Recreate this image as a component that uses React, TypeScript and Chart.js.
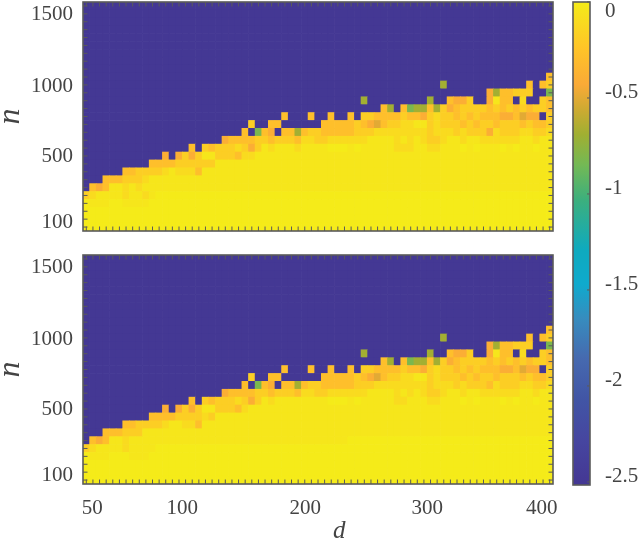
import React, { useEffect, useRef } from 'react';
import { Chart, registerables } from 'chart.js';

Chart.register(...registerables);

const dots = (count: number) => '.'.repeat(count);

// axis values of the grid, one per column / row
const dValues = [
  50, 55, 60, 65, 70, 75, 80, 85, 90, 95, 100, 105, 110, 115, 120, 125, 130, 135, 140, 145, 150, 155, 160, 165,
  170, 175, 180, 185, 190, 195, 200, 205, 210, 215, 220, 225, 230, 235, 240, 245, 250, 255, 260, 265, 270, 275,
  280, 285, 290, 295, 300, 305, 310, 315, 320, 325, 330, 335, 340, 345, 350, 355, 360, 365, 370, 375, 380, 385,
  390, 395, 400,
];
const nValues = [
  100, 150, 200, 250, 300, 350, 400, 450, 500, 550, 600, 650, 700, 750, 800, 850, 900, 950, 1000, 1050, 1100,
  1150, 1200, 1250, 1300, 1350, 1400, 1450, 1500,
];

// printed labels sit a little off their true ticks in the picture
const xTickLabels = ['50', '100', '200', '300', '400'];
const xTickSpots = [54.5, 122.5, 215.4, 307.6, 394];
const yTickLabels = ['100', '500', '1000', '1500'];
const yTickSpots = [132, 544, 987, 1449];
const barTickLabels = ['0', '-0.5', '-1', '-1.5', '-2', '-2.5'];
const barTickSpots = [-0.047, -0.469, -0.974, -1.469, -1.969, -2.474];
const barTrueTicks = [0, -0.5, -1, -1.5, -2, -2.5];

// cell codes -> value on the colour bar
const cellLevels: Record<string, number> = {
  '.': -2.5, a: 0, b: -0.03, c: -0.1, d: -0.18, e: -0.28, f: -0.4, g: -0.5, h: -0.68, i: -0.82,
};

// rows from n = 100 upward, one character per d column
const topRows = [
  'a'.repeat(71),
  'a'.repeat(71),
  'a'.repeat(71),
  'abbbaabbbb' + 'a'.repeat(61),
  'dcbbbbcbbcb' + 'a'.repeat(60),
  '.efebbcbcb' + 'b'.repeat(61),
  '...eeedddc' + 'b'.repeat(61),
  dots(6) + 'eedd' + 'ddcbccce' + 'b'.repeat(53),
  dots(10) + 'eeee' + 'dddddd' + 'b'.repeat(51),
  dots(12) + 'f.' + 'fdfd' + 'bbddde' + 'cc' + 'b'.repeat(45),
  dots(16) + 'e.' + 'dedddcdfdb' + 'cbbbcbbbba' + 'aababbbbbc' + 'ccbbccbbba' + 'babbbababb' + 'abb',
  dots(21) + 'feeeeddedd' + 'deccddcccc' + 'ccbbbbcbcb' + 'cddcbbcbbc' + 'cccccbbcbb',
  dots(24) + 'e.ief.eehe' + 'ddeeeeeddd' + 'ccccccccdc' + 'ccdcdddfcd' + 'ddccddc',
  dots(25) + 'd..ee' + dots(6) + 'eeeeedefge' + 'ddccbbdcdd' + 'dededdedd' + 'dedeed',
  dots(30) + 'e...e..e..e.' + 'ddeeeedeef' + 'dcddededee' + 'effegff.d',
  dots(45) + 'eh.eihhehd' + 'feddddeded' + 'ededde',
  dots(42) + 'h' + dots(9) + 'h..effd..fbee.c..de',
  dots(61) + 'fheeddd..i',
  dots(54) + 'h' + dots(12) + 'e.ed',
  dots(70) + 'e',
  dots(71), dots(71), dots(71), dots(71), dots(71), dots(71), dots(71), dots(71), dots(71),
];

const bottomRows = [
  'a'.repeat(71),
  'a'.repeat(71),
  'a'.repeat(71),
  'abbbaaabbb' + 'a'.repeat(61),
  'dcbbbbcbbbb' + 'a'.repeat(60),
  '.efebbcbbb' + 'b'.repeat(30) + 'a'.repeat(31),
  '...eeedddb' + 'b'.repeat(61),
  dots(6) + 'eedd' + 'ddcbbcce' + 'b'.repeat(53),
  dots(10) + 'eeee' + 'ddddcd' + 'b'.repeat(51),
  dots(12) + 'f.' + 'fdfd' + 'bbddde' + 'cb' + 'b'.repeat(45),
  dots(16) + 'e.' + 'dedddcdfdb' + 'cbbbbbbbba' + 'aababbbbbc' + 'cbbbccbbba' + 'babbbababb' + 'abb',
  dots(21) + 'feeeeddedd' + 'deccddcccc' + 'ccbbbbcbcb' + 'cddcbbcbbc' + 'cccccbbcbb',
  dots(24) + 'e.ief.eehe' + 'ddeeeeeddd' + 'ccccccccdc' + 'ccdcdddecd' + 'ddccddc',
  dots(25) + 'd..ee' + dots(6) + 'eeeeedefge' + 'ddccbbdcdd' + 'dededdedd' + 'dedeed',
  dots(30) + 'e...e..e..e.' + 'ddeeeedeef' + 'dcddededee' + 'effegff.d',
  dots(45) + 'eh.eihhehd' + 'feddddeded' + 'ededde',
  dots(42) + 'h' + dots(9) + 'h..effd..fbee.c..de',
  dots(61) + 'fheeddd..i',
  dots(54) + 'h' + dots(12) + 'e.ed',
  dots(70) + 'e',
  dots(71), dots(71), dots(71), dots(71), dots(71), dots(71), dots(71), dots(71), dots(71),
];

// colour bar stops: value, r, g, b
const colorStops = [
  [0, 245, 235, 25], [-0.25, 255, 195, 40], [-0.43, 250, 170, 55], [-0.56, 205, 170, 50], [-0.69, 160, 175, 50],
  [-0.85, 115, 185, 85], [-1.03, 60, 175, 125], [-1.29, 15, 170, 190], [-1.47, 15, 170, 205], [-1.65, 55, 140, 190],
  [-1.86, 70, 105, 175], [-2.07, 65, 85, 165], [-2.28, 70, 70, 160], [-2.5, 68, 56, 148],
];

const inkColor = '#444444';
const frameColor = '#5a5a5a';
const serif = 'Liberation Serif';

function colorFor(value: number) {
  for (let i = 1; i < colorStops.length; i++) {
    const [v1, r1, g1, b1] = colorStops[i - 1];
    const [v2, r2, g2, b2] = colorStops[i];
    if (value >= v2) {
      const t = (v1 - value) / (v1 - v2);
      return `rgb(${r1 + (r2 - r1) * t},${g1 + (g2 - g1) * t},${b1 + (b2 - b1) * t})`;
    }
  }
  return '#443894';
}

// tick labels must not push the plot area in, the layout is fixed here
function clearPadding(scale: any) {
  scale.paddingLeft = 0;
  scale.paddingRight = 0;
  scale.paddingTop = 0;
  scale.paddingBottom = 0;
  scale._margins = { left: 0, right: 0, top: 0, bottom: 0 };
}

const frameTicks = {
  id: 'frameTicks',
  afterDatasetsDraw(chart: any) {
    const { ctx, chartArea: a, scales } = chart;
    ctx.save();
    ctx.strokeStyle = frameColor;
    ctx.lineWidth = 1;
    ctx.beginPath();
    dValues.forEach((d) => {
      const px = scales.x.getPixelForValue(d);
      ctx.moveTo(px, a.bottom);
      ctx.lineTo(px, a.bottom - 4.5);
      ctx.moveTo(px, a.top);
      ctx.lineTo(px, a.top + 4.5);
    });
    nValues.forEach((n) => {
      const py = scales.y.getPixelForValue(n);
      ctx.moveTo(a.left, py);
      ctx.lineTo(a.left + 4.5, py);
      ctx.moveTo(a.right, py);
      ctx.lineTo(a.right - 4.5, py);
    });
    ctx.stroke();
    ctx.lineWidth = 1.6;
    ctx.strokeRect(a.left, a.top, a.right - a.left, a.bottom - a.top);
    ctx.restore();
  },
};

// the d sits right of the axis centre, so an axis title can't place it
const dName = {
  id: 'dName',
  afterDraw(chart: any) {
    if (!chart.options.plugins.dName?.show) return;
    const { ctx, scales } = chart;
    ctx.save();
    ctx.font = `italic 25px "${serif}"`;
    ctx.fillStyle = inkColor;
    ctx.textAlign = 'center';
    ctx.textBaseline = 'alphabetic';
    ctx.fillText('d', scales.x.getPixelForValue(241), chart.height - 2);
    ctx.restore();
  },
};

function HeatPanel({ rows, withX, top, height, areaTop, xHeight }: any) {
  const canvasRef = useRef<HTMLCanvasElement | null>(null);

  useEffect(() => {
    if (!canvasRef.current) return;
    const datasets = rows.map((row: string, r: number) => ({
      data: dValues.map((d) => ({ x: d, y: [nValues[r] - 25, nValues[r] + 25] })),
      backgroundColor: dValues.map((_, c) => colorFor(cellLevels[row[c]])),
      borderWidth: 0,
      grouped: false,
      barPercentage: 1,
      categoryPercentage: 1,
    }));

    const chart = new Chart(canvasRef.current, {
      type: 'bar',
      data: { datasets },
      plugins: [frameTicks, dName],
      options: {
        animation: false,
        responsive: false,
        layout: { padding: { top: areaTop, right: 9, left: 0, bottom: 0 } },
        plugins: { legend: { display: false }, tooltip: { enabled: false }, dName: { show: withX } } as any,
        scales: {
          x: {
            type: 'linear',
            offset: false,
            min: 47.5,
            max: 402.5,
            grid: { display: false, drawTicks: false },
            border: { display: false },
            afterBuildTicks: (s: any) => { s.ticks = withX ? xTickSpots.map((value) => ({ value })) : []; },
            afterFit: (s: any) => { s.height = xHeight; clearPadding(s); },
            ticks: {
              display: withX,
              autoSkip: false,
              maxRotation: 0,
              padding: 12,
              color: inkColor,
              font: { family: serif, size: 21 },
              callback: (_: any, i: number) => xTickLabels[i],
            },
          },
          y: {
            type: 'linear',
            min: 75,
            max: 1525,
            grid: { display: false, drawTicks: false },
            border: { display: false },
            afterBuildTicks: (s: any) => { s.ticks = yTickSpots.map((value) => ({ value })); },
            afterFit: (s: any) => { s.width = 83; clearPadding(s); },
            title: {
              display: true,
              text: 'n',
              color: inkColor,
              padding: { top: -5, bottom: 0 },
              font: { family: serif, size: 32, style: 'italic', lineHeight: 1 },
            },
            ticks: {
              autoSkip: false,
              padding: 10,
              color: inkColor,
              font: { family: serif, size: 21 },
              callback: (_: any, i: number) => yTickLabels[i],
            },
          },
        },
      },
    } as any);
    return () => chart.destroy();
  }, []);

  return (
    <canvas
      ref={canvasRef}
      width={562}
      height={height}
      style={{ position: 'absolute', left: 0, top, width: 562, height }}
    />
  );
}

function ColorBar() {
  const canvasRef = useRef<HTMLCanvasElement | null>(null);

  useEffect(() => {
    if (!canvasRef.current) return;
    const barMin = -2.516;
    const chart = new Chart(canvasRef.current, {
      type: 'bar',
      data: {
        labels: ['bar'],
        datasets: [{
          data: [[barMin, 0]],
          barPercentage: 1,
          categoryPercentage: 1,
          borderWidth: 0,
          backgroundColor: (c: any) => {
            const area = c.chart.chartArea;
            if (!area) return '#443894';
            const y = c.chart.scales.y;
            const g = c.chart.ctx.createLinearGradient(0, y.getPixelForValue(0), 0, y.getPixelForValue(barMin));
            colorStops.forEach(([v, r, gr, b]) => g.addColorStop(v / barMin, `rgb(${r},${gr},${b})`));
            return g;
          },
        }],
      },
      plugins: [{
        id: 'barFrame',
        afterDatasetsDraw(ch: any) {
          const { ctx, chartArea: a, scales } = ch;
          ctx.save();
          ctx.strokeStyle = frameColor;
          ctx.lineWidth = 1;
          ctx.beginPath();
          barTrueTicks.forEach((v) => {
            const py = scales.y.getPixelForValue(v);
            ctx.moveTo(a.right, py);
            ctx.lineTo(a.right - 3, py);
          });
          ctx.stroke();
          ctx.lineWidth = 1.6;
          ctx.strokeRect(a.left, a.top, a.right - a.left, a.bottom - a.top);
          ctx.restore();
        },
      }],
      options: {
        animation: false,
        responsive: false,
        layout: { padding: { left: 13, top: 2, right: 0, bottom: 3 } },
        plugins: { legend: { display: false }, tooltip: { enabled: false } },
        scales: {
          x: { display: false },
          y: {
            position: 'right',
            min: barMin,
            max: 0,
            grid: { display: false, drawTicks: false },
            border: { display: false },
            afterBuildTicks: (s: any) => { s.ticks = barTickSpots.map((value) => ({ value })); },
            afterFit: (s: any) => { s.width = 50; clearPadding(s); },
            ticks: {
              autoSkip: false,
              padding: 15,
              color: inkColor,
              font: { family: serif, size: 21 },
              callback: (_: any, i: number) => barTickLabels[i],
            },
          },
        },
      },
    } as any);
    return () => chart.destroy();
  }, []);

  return (
    <canvas
      ref={canvasRef}
      width={80}
      height={488}
      style={{ position: 'absolute', left: 560, top: 0, width: 80, height: 488 }}
    />
  );
}

export default function App() {
  return (
    <div style={{ position: 'absolute', left: 0, top: 0, width: 640, height: 540, background: '#fff', overflow: 'hidden' }}>
      <HeatPanel rows={topRows} withX={false} top={0} height={236} areaTop={2} xHeight={5} />
      <HeatPanel rows={bottomRows} withX={true} top={250} height={290} areaTop={5} xHeight={56} />
      <ColorBar />
    </div>
  );
}
